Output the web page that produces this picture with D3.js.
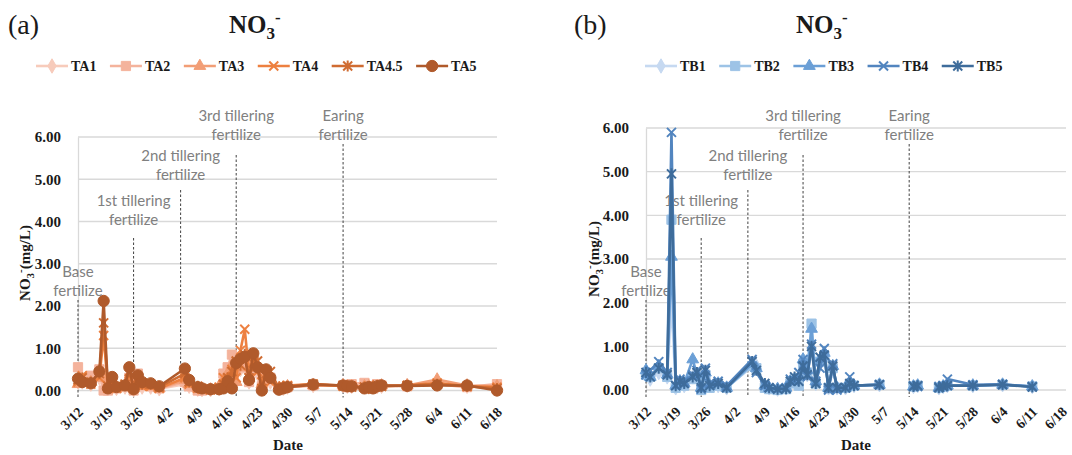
<!DOCTYPE html>
<html>
<head>
<meta charset="utf-8">
<script src="https://cdn.jsdelivr.net/npm/d3@7"></script>
<style>
body{margin:0;background:#fff;}
svg{display:block;}
</style>
</head>
<body>
<svg id="chart" width="1072" height="455"></svg>
<script>
// sampling dates (month/day), shared by both panels
const sampleDates = ["3/12","3/13","3/15","3/17","3/18","3/19","3/20","3/21","3/23","3/24",
	"3/25","3/26","3/27","3/29","3/31","4/6","4/7","4/9","4/10","4/12",
	"4/14","4/15","4/16","4/17","4/18","4/19","4/20","4/21","4/22","4/23",
	"4/24","4/25","4/26","4/28","4/29","4/30","5/6","5/13","5/14","5/15",
	"5/18","5/19","5/20","5/21","5/22","5/28","6/4","6/11","6/18"];
const tickDates = ["3/12","3/19","3/26","4/2","4/9","4/16","4/23","4/30","5/7","5/14","5/21","5/28","6/4","6/11","6/18"];
const yTicks = [0,1,2,3,4,5,6];

// fertilizer events
const fertDates = ["3/12","3/25","4/5","4/18","5/13"];
const fertLabels = [["Base","fertilize"],["1st tillering","fertilize"],["2nd tillering","fertilize"],["3rd tillering","fertilize"],["Earing","fertilize"]];

// panel (a)
const seriesA = ["TA1","TA2","TA3","TA4","TA4.5","TA5"];
const ta1 = [0.20,0.20,0.15,0.30,0.20,0.05,0.10,0.05,0.08,0.20, 0.02,0.15,0.08,0.08,0.04,0.15,0.10,0.03,0.02,0.02,
	0.05,0.20,0.30,0.45,0.40,0.50,0.55,0.20,0.45,0.40, 0.10,0.30,0.20,0.05,0.05,0.08,0.12,0.12,0.10,0.10,
	0.10,0.08,0.10,0.10,0.10,0.12,0.15,0.10,0.10];
const ta2 = [0.55,0.25,0.35,0.50,0.00,0.00,0.20,0.05,0.10,0.30, 0.00,0.40,0.15,0.10,0.05,0.20,0.10,0.00,0.00,0.02,
	0.05,0.40,0.55,0.85,0.75,0.55,0.60,0.20,0.80,0.50, 0.10,0.45,0.30,0.05,0.05,0.08,0.12,0.12,0.08,0.15,
	0.18,0.10,0.05,0.15,0.12,0.10,0.15,0.08,0.15];
const ta3 = [0.15,0.25,0.20,0.35,0.30,0.10,0.15,0.05,0.10,0.30, 0.05,0.20,0.10,0.10,0.05,0.25,0.15,0.05,0.03,0.02,
	0.10,0.25,0.40,0.60,0.20,0.55,0.75,0.30,0.60,0.55, 0.15,0.40,0.25,0.05,0.05,0.10,0.12,0.12,0.10,0.10,
	0.10,0.10,0.08,0.10,0.12,0.12,0.26,0.12,0.10];
const ta4 = [0.20,0.35,0.15,0.30,1.30,0.05,0.20,0.05,0.10,0.40, 0.08,0.25,0.10,0.10,0.05,0.30,0.15,0.05,0.03,0.02,
	0.08,0.30,0.25,0.50,0.30,0.95,1.45,0.40,0.70,0.45, 0.20,0.35,0.20,0.10,0.08,0.12,0.15,0.10,0.12,0.10,
	0.08,0.10,0.08,0.12,0.10,0.12,0.18,0.10,0.08];
const ta45 = [0.25,0.30,0.20,0.40,1.60,0.10,0.25,0.10,0.15,0.45, 0.05,0.30,0.15,0.15,0.08,0.40,0.20,0.10,0.05,0.02,
	0.05,0.15,0.30,0.45,0.70,0.60,0.85,0.30,0.65,0.70, 0.05,0.40,0.45,0.05,0.10,0.10,0.15,0.12,0.10,0.08,
	0.08,0.05,0.10,0.12,0.10,0.12,0.15,0.10,0.05];
const ta5 = [0.28,0.20,0.17,0.45,2.12,0.05,0.32,0.08,0.12,0.55, 0.03,0.36,0.20,0.17,0.10,0.52,0.25,0.08,0.05,0.03,
	0.03,0.05,0.22,0.05,0.65,0.75,0.80,0.25,0.88,0.55, 0.00,0.50,0.30,0.02,0.05,0.08,0.14,0.12,0.10,0.10,
	0.05,0.08,0.05,0.10,0.12,0.11,0.12,0.12,0.00];

// panel (b)
const seriesB = ["TB1","TB2","TB3","TB4","TB5"];
const tb1 = [0.35,0.25,0.40,0.30,2.00,0.05,0.15,0.10,0.30,0.35, 0.05,0.30,0.10,0.10,0.05,0.55,0.55,0.10,0.05,0.02,
	0.05,0.15,0.20,0.15,0.50,0.35,0.90,0.15,0.60,0.70, 0.05,0.45,0.05,0.05,0.10,0.10,0.12,null,0.08,0.10,
	null,null,0.05,0.08,0.10,0.10,0.12,0.08,null];
const tb2 = [0.35,0.30,0.50,0.30,3.90,0.05,0.15,0.10,0.25,0.30, 0.00,0.35,0.05,0.10,0.05,0.55,0.50,0.05,0.02,0.00,
	0.02,0.15,0.20,0.10,0.60,0.40,1.52,0.15,0.65,0.75, 0.05,0.50,0.05,0.05,0.10,0.10,0.12,null,0.08,0.10,
	null,null,0.05,0.08,0.10,0.10,0.12,0.08,null];
const tb3 = [0.45,0.30,0.55,0.35,3.05,0.10,0.20,0.15,0.70,0.35, 0.05,0.40,0.10,0.15,0.05,0.60,0.50,0.10,0.05,0.02,
	0.05,0.20,0.25,0.30,0.70,0.45,1.40,0.20,0.70,0.85, 0.05,0.55,0.05,0.05,0.15,0.10,0.12,null,0.08,0.10,
	null,null,0.05,0.08,0.10,0.10,0.12,0.08,null];
const tb4 = [0.35,0.45,0.65,0.40,5.90,0.10,0.25,0.20,0.35,0.45, 0.02,0.50,0.15,0.20,0.10,0.70,0.40,0.10,0.05,0.03,
	0.05,0.25,0.20,0.40,0.70,0.30,1.05,0.20,0.50,0.95, 0.00,0.60,0.00,0.05,0.30,0.10,0.12,null,0.10,0.08,
	null,null,0.08,0.10,0.25,0.12,0.13,0.08,null];
const tb5 = [0.40,0.30,0.50,0.35,4.95,0.10,0.20,0.15,0.30,0.40, 0.05,0.45,0.10,0.15,0.05,0.65,0.45,0.15,0.05,0.02,
	0.03,0.20,0.30,0.20,0.55,0.35,1.00,0.15,0.75,0.80, 0.05,0.55,0.05,0.05,0.15,0.10,0.12,null,0.08,0.10,
	null,null,0.05,0.08,0.10,0.10,0.12,0.07,null];

const serif = "'Liberation Serif','Times New Roman',serif";
const labelFont = "Lato, 'Open Sans', sans-serif";

const panels = [
	{"letter":"(a)", "names":seriesA, "values":[ta1,ta2,ta3,ta4,ta45,ta5],
	 "colors":["#f7cbbb","#f4b39c","#f29e76","#ed8040","#d06c32","#b05a2b"],
	 "markers":["diamond","square","triangle","x","star","circle"],
	 "left":78, "right":497, "gridRight":497, "top":137, "bottom":390.5,
	 "letterX":8, "titleX":229, "legendX":36, "yTitleX":25, "yTitleY":263, "dateX":288},
	{"letter":"(b)", "names":seriesB, "values":[tb1,tb2,tb3,tb4,tb5],
	 "colors":["#c6d9f1","#9dc3e6","#6b9fd6","#5285bf","#3e6c9b"],
	 "markers":["diamond","square","triangle","x","star"],
	 "left":646, "right":1062, "gridRight":1066, "top":128, "bottom":390,
	 "letterX":574, "titleX":796, "legendX":645, "yTitleX":594, "yTitleY":259, "dateX":856}
];
// fertilize marks sit at the same height in both panels (pixels): dashed line top, label first line centre
const fertTopY = [300,238,190,155,144];
const fertLabelY = [272,201,156,116,116];

const svg = d3.select("#chart");
const parse = d3.timeParse("%m/%d/%Y");

function toDate(s) {
	return parse(s + "/2017");
}

function markerPath(type) {
	if (type == "circle") return d3.symbol(d3.symbolCircle, 100)();
	if (type == "square") return d3.symbol(d3.symbolSquare, 85)();
	if (type == "diamond") return d3.symbol(d3.symbolDiamond, 60)();
	if (type == "triangle") return d3.symbol(d3.symbolTriangle, 60)();
	if (type == "x") return "M-4.5,-4.5L4.5,4.5M-4.5,4.5L4.5,-4.5";
	return "M-4.5,-4.5L4.5,4.5M-4.5,4.5L4.5,-4.5M0,-5.5L0,5.5"; //star
}

function styleMarker(sel, type, color) {
	const open = (type == "x" || type == "star");
	sel.attr("d", markerPath(type))
		.attr("fill", open ? "none" : color)
		.attr("stroke", color)
		.attr("stroke-width", open ? 2 : 1);
}

function drawPanel(p) {
	const g = svg.append("g");
	const x = d3.scaleTime().domain([toDate(tickDates[0]), toDate(tickDates[tickDates.length - 1])]).range([p.left, p.right]);
	const y = d3.scaleLinear().domain([0, 6]).range([p.bottom, p.top]);

	// gridlines
	g.append("g").selectAll("line").data(yTicks).join("line")
		.attr("x1", p.left).attr("x2", p.gridRight)
		.attr("y1", d => y(d)).attr("y2", d => y(d))
		.attr("stroke", "#d9d9d9").attr("stroke-width", 1.3);

	// y axis
	const ya = g.append("g").attr("transform", "translate(" + p.left + ",0)")
		.call(d3.axisLeft(y).tickValues(yTicks).tickFormat(d3.format(".2f")).tickSize(0).tickSizeOuter(0).tickPadding(17));
	ya.attr("font-family", serif).attr("font-size", 15).attr("font-weight", "bold");
	ya.select(".domain").attr("stroke", "#d9d9d9").attr("stroke-width", 1.3);
	ya.selectAll("text").attr("fill", "#1a1a1a");

	// x axis, rotated labels
	const xa = g.append("g").attr("transform", "translate(0," + p.bottom + ")")
		.call(d3.axisBottom(x).tickValues(tickDates.map(toDate)).tickFormat((d, i) => tickDates[i]).tickSize(0).tickSizeOuter(0));
	xa.attr("font-family", serif).attr("font-size", 14).attr("font-weight", "bold");
	xa.select(".domain").remove();
	xa.selectAll("text")
		.attr("x", 0).attr("y", 0).attr("dy", "0.35em")
		.attr("text-anchor", "end").attr("fill", "#1a1a1a")
		.attr("transform", "translate(2,19) rotate(-45)");

	// fertilizer dashed lines + labels
	g.append("g").selectAll("line").data(fertDates).join("line")
		.attr("x1", d => x(toDate(d))).attr("x2", d => x(toDate(d)))
		.attr("y1", (d, i) => fertTopY[i]).attr("y2", p.bottom + 7)
		.attr("stroke", "#404040").attr("stroke-width", 1).attr("stroke-dasharray", "2.5,2");
	const fl = g.append("g").selectAll("text").data(fertDates).join("text")
		.attr("font-family", labelFont).attr("font-size", 15).attr("fill", "#808080")
		.attr("text-anchor", "middle");
	fl.each(function(d, i) {
		const t = d3.select(this);
		const cx = x(toDate(d));
		t.append("tspan").attr("x", cx).attr("y", fertLabelY[i]).attr("dy", "0.35em").text(fertLabels[i][0]);
		t.append("tspan").attr("x", cx).attr("y", fertLabelY[i] + 19).attr("dy", "0.35em").text(fertLabels[i][1]);
	});

	// series
	const line = d3.line().defined(d => d.v != null).x(d => x(d.t)).y(d => y(d.v));
	p.values.forEach((vals, k) => {
		const pts = sampleDates.map((s, i) => ({"t": toDate(s), "v": vals[i]}));
		const sg = g.append("g");
		sg.append("path").datum(pts).attr("d", line)
			.attr("fill", "none").attr("stroke", p.colors[k]).attr("stroke-width", 2.6)
			.attr("stroke-linejoin", "round");
		sg.selectAll(".mk").data(pts.filter(d => d.v != null)).join("path")
			.attr("class", "mk")
			.attr("transform", d => "translate(" + x(d.t) + "," + y(d.v) + ")")
			.call(styleMarker, p.markers[k], p.colors[k]);
	});

	// legend
	let lx = p.legendX;
	const ly = 66;
	p.names.forEach((n, k) => {
		const lg = g.append("g");
		lg.append("line").attr("x1", lx).attr("x2", lx + 32).attr("y1", ly).attr("y2", ly)
			.attr("stroke", p.colors[k]).attr("stroke-width", 2.6);
		lg.append("path").attr("transform", "translate(" + (lx + 16) + "," + ly + ")")
			.call(styleMarker, p.markers[k], p.colors[k]);
		const t = lg.append("text").attr("x", lx + 35).attr("y", ly).attr("dy", "0.35em")
			.attr("font-family", serif).attr("font-size", 14).attr("font-weight", "bold").attr("fill", "#1a1a1a")
			.text(n);
		lx += 35 + t.node().getComputedTextLength() + 13.5;
	});

	// titles
	g.append("text").attr("x", p.letterX).attr("y", 34)
		.attr("font-family", serif).attr("font-size", 28).attr("fill", "#1a1a1a").text(p.letter);
	const tt = g.append("text").attr("x", p.titleX).attr("y", 33)
		.attr("font-family", serif).attr("font-size", 25).attr("font-weight", "bold").attr("fill", "#1a1a1a");
	tt.append("tspan").text("NO");
	tt.append("tspan").attr("font-size", 17).attr("dy", 6).text("3");
	tt.append("tspan").attr("font-size", 17).attr("dy", -16).text("-");

	// axis titles
	const yt = g.append("text").attr("transform", "translate(" + p.yTitleX + "," + p.yTitleY + ") rotate(-90)")
		.attr("text-anchor", "middle").attr("dy", "0.35em")
		.attr("font-family", serif).attr("font-size", 15).attr("font-weight", "bold").attr("fill", "#1a1a1a");
	yt.append("tspan").text("NO");
	yt.append("tspan").attr("font-size", 11).attr("dy", 4).text("3");
	yt.append("tspan").attr("font-size", 11).attr("dy", -10).text("-");
	yt.append("tspan").attr("dy", 6).text("(mg/L)");

	g.append("text").attr("x", p.dateX).attr("y", 450).attr("text-anchor", "middle")
		.attr("font-family", serif).attr("font-size", 15).attr("font-weight", "bold").attr("fill", "#1a1a1a")
		.text("Date");
}

panels.forEach(p => drawPanel(p));
</script>
</body>
</html>
